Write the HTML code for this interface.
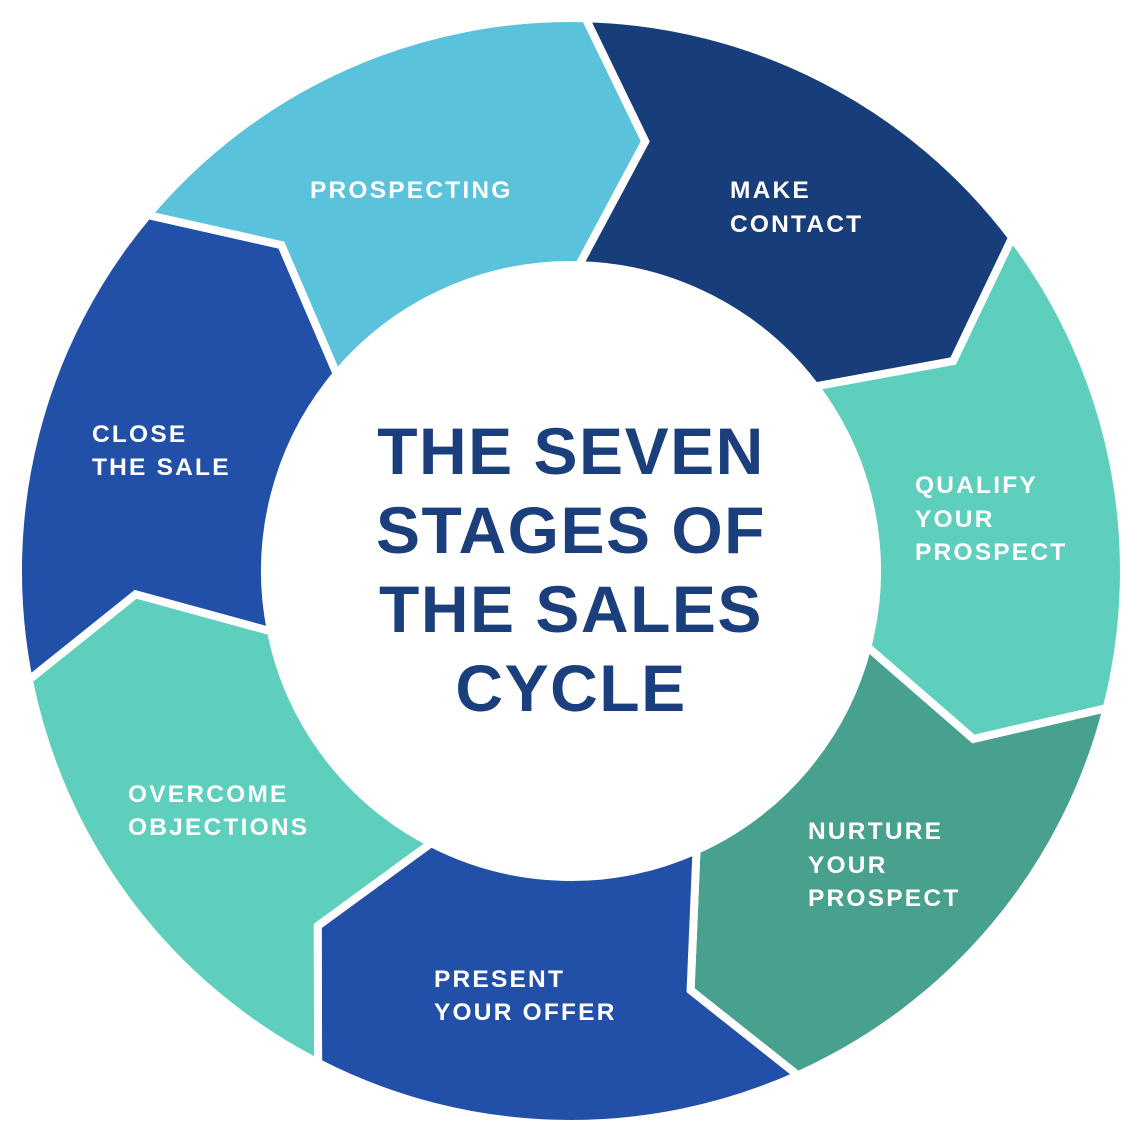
<!DOCTYPE html>
<html><head><meta charset="utf-8"><style>
html,body{margin:0;padding:0;background:#fff;width:1142px;height:1142px;overflow:hidden}
svg text{font-family:"Liberation Sans",sans-serif;font-weight:bold}
.l{fill:#fff;font-size:24.5px;letter-spacing:2.2px}
.c{fill:#1a3f7c;font-size:66px;letter-spacing:1.5px}
</style></head><body>
<svg id="s" width="1142" height="1142" viewBox="0 0 1142 1142" xmlns="http://www.w3.org/2000/svg">
<g id="g"></g>
<text class="l" x="310" y="198">PROSPECTING</text>
<text class="l" x="730" y="198">MAKE</text>
<text class="l" x="730" y="232">CONTACT</text>
<text class="l" x="915" y="493">QUALIFY</text>
<text class="l" x="915" y="527">YOUR</text>
<text class="l" x="915" y="560">PROSPECT</text>
<text class="l" x="808" y="839">NURTURE</text>
<text class="l" x="808" y="873">YOUR</text>
<text class="l" x="808" y="906">PROSPECT</text>
<text class="l" x="434" y="987">PRESENT</text>
<text class="l" x="434" y="1020">YOUR OFFER</text>
<text class="l" x="128" y="802">OVERCOME</text>
<text class="l" x="128" y="835">OBJECTIONS</text>
<text class="l" x="92" y="442">CLOSE</text>
<text class="l" x="92" y="475">THE SALE</text>
<text class="c" x="571" y="474" text-anchor="middle">THE SEVEN</text>
<text class="c" x="571" y="553" text-anchor="middle">STAGES OF</text>
<text class="c" x="571" y="632" text-anchor="middle">THE SALES</text>
<text class="c" x="571" y="711" text-anchor="middle">CYCLE</text>
</svg>
<script>
(function(){
var cx=571,cy=571,R=553,r=306,A=436,da=8.3,g=document.getElementById('g');
var cols=['#173e7a','#5fcfbd','#48a08e','#2250a8','#5fcfbd','#2250a8','#5bc2db'];
function p(rad,deg){var a=deg*Math.PI/180;return (cx+rad*Math.sin(a)).toFixed(1)+','+(cy-rad*Math.cos(a)).toFixed(1);}
for(var i=0;i<7;i++){
 var a0=1.5+i*360/7,a1=a0+360/7;
 var d='M'+p(R,a0)+' A'+R+','+R+' 0 0 1 '+p(R,a1)+' L'+p(A,a1+da)+' L'+p(r,a1)+
  ' A'+r+','+r+' 0 0 0 '+p(r,a0)+' L'+p(A,a0+da)+' Z';
 var e=document.createElementNS('http://www.w3.org/2000/svg','path');
 e.setAttribute('d',d);e.setAttribute('fill',cols[i]);e.setAttribute('stroke','#fff');e.setAttribute('stroke-width','8');e.setAttribute('stroke-linejoin','miter');
 g.appendChild(e);
}
})();
</script>
</body></html>
